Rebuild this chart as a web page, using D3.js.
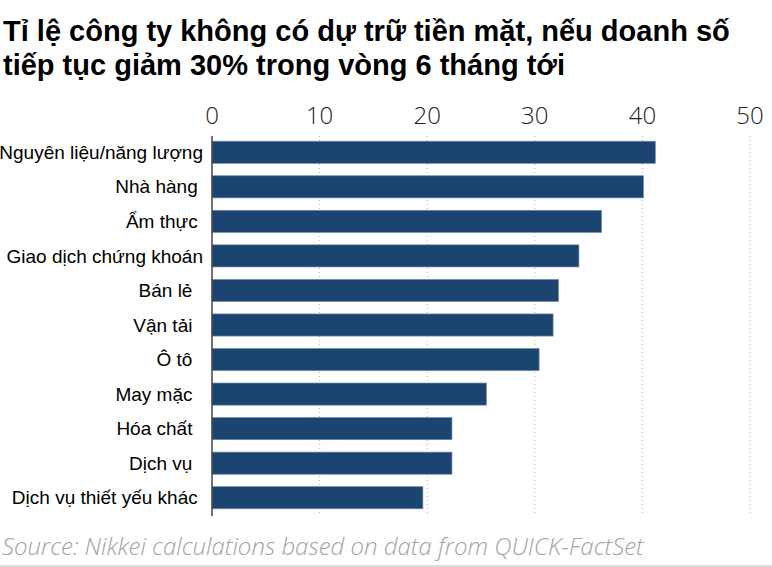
<!DOCTYPE html>
<head>
<meta charset="utf-8">
<title>Tỉ lệ công ty không có dự trữ tiền mặt</title>
<script src="https://cdn.jsdelivr.net/npm/d3@7"></script>
<style>
  body { margin: 0; background: #fff; }
  svg text { white-space: pre; }
</style>
</head>
<body>
<svg id="chart" width="772" height="567"></svg>
<script>
var categories = ['Nguyên liệu/năng lượng', 'Nhà hàng ', 'Ẩm thực ', 'Giao dịch chứng khoán', 'Bán lẻ  ',
                  'Vận tải  ', 'Ô tô  ', 'May mặc  ', 'Hóa chất  ', 'Dịch vụ  ', 'Dịch vụ thiết yếu khác ']
var values = [41.2, 40.1, 36.2, 34.1, 32.2, 31.7, 30.4, 25.5, 22.3, 22.3, 19.6]
var ticks = [0, 10, 20, 30, 40, 50]
var title = ['Tỉ lệ công ty không có dự trữ tiền mặt, nếu doanh số', 'tiếp tục giảm 30% trong vòng 6 tháng tới']
var source = 'Source: Nikkei calculations based on data from QUICK-FactSet'

var svg = d3.select('#chart')

var x = d3.scaleLinear().domain([0, 50]).range([212, 750])
var y = d3.scaleBand().domain(categories).range([135, 515]).paddingInner(0.36).paddingOuter(0.18)

svg.selectAll('.title').data(title).enter().append('text')
  .attr('x', 3)
  .attr('y', function (d, i) { return 41 + i * 34 })
  .attr('font-family', 'Liberation Sans, Arial, sans-serif')
  .attr('font-weight', 'bold')
  .attr('font-size', 29)
  .attr('fill', '#000')
  .text(function (d) { return d })

// dotted grid
svg.selectAll('.grid').data(ticks.slice(1)).enter().append('line')
  .attr('x1', x).attr('x2', x)
  .attr('y1', 136).attr('y2', 516)
  .attr('stroke', '#b5b5b5')
  .attr('stroke-width', 1)
  .attr('stroke-dasharray', '1,3')

svg.selectAll('.tick').data(ticks).enter().append('text')
  .attr('x', x)
  .attr('y', 124)
  .attr('text-anchor', 'middle')
  .attr('font-family', 'Open Sans, sans-serif')
  .attr('font-weight', 300)
  .attr('font-size', 24)
  .attr('fill', '#222')
  .text(function (d) { return d })

svg.selectAll('.bar').data(values).enter().append('rect')
  .attr('x', x(0))
  .attr('y', function (d, i) { return y(categories[i]) })
  .attr('width', function (d) { return x(d) - x(0) })
  .attr('height', y.bandwidth())
  .attr('fill', '#1b4471')
  .attr('stroke', '#6f8cae')
  .attr('stroke-width', 0.7)

svg.append('line')
  .attr('x1', x(0)).attr('x2', x(0))
  .attr('y1', 136).attr('y2', 516)
  .attr('stroke', '#444')
  .attr('stroke-width', 1.5)

svg.selectAll('.cat').data(categories).enter().append('text')
  .attr('x', 203)
  .attr('y', function (d) { return y(d) + y.bandwidth() / 2 })
  .attr('dy', '0.35em')
  .attr('text-anchor', 'end')
  .attr('font-family', 'Liberation Sans, Arial, sans-serif')
  .attr('font-size', 19)
  .attr('fill', '#000')
  .text(function (d) { return d })

svg.append('text')
  .attr('x', 2)
  .attr('y', 555)
  .attr('font-family', 'Open Sans, sans-serif')
  .attr('font-style', 'italic')
  .attr('font-weight', 300)
  .attr('font-size', 24)
  .attr('fill', '#a3a3a3')
  .text(source)

svg.append('line')
  .attr('x1', 0).attr('x2', 772)
  .attr('y1', 566).attr('y2', 566)
  .attr('stroke', '#bbb')
  .attr('stroke-width', 1)
</script>
</body>
